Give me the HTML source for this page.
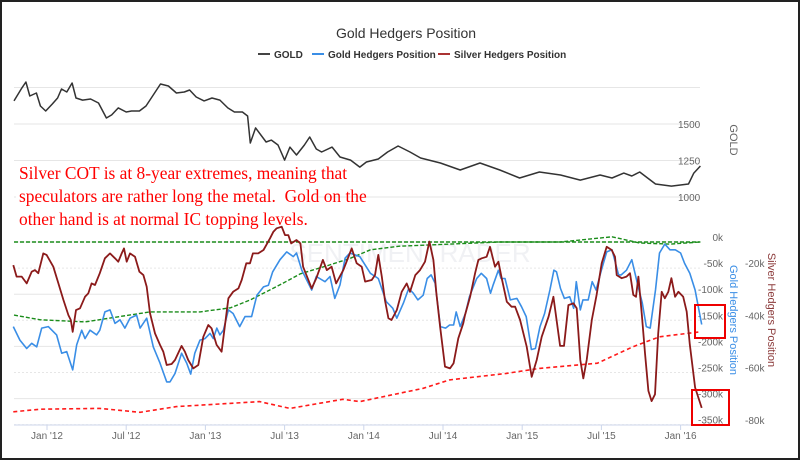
<!DOCTYPE html>
<html><head><meta charset="utf-8"><style>
body{margin:0;background:#fff}
#wrap{position:relative;width:800px;height:460px;overflow:hidden;background:#fff}
svg text{font-family:"Liberation Sans",sans-serif}
</style></head><body>
<div id="wrap">
<svg id="chart" width="800" height="460" xmlns="http://www.w3.org/2000/svg"></svg>
</div>
<script>
const goldT=[-2.5,-1.9,-1.6,-1.3,-0.8,-0.5,-0.1,0.4,0.8,1.1,1.5,1.9,2.2,2.7,3.3,3.9,4.5,4.9,5.4,6.0,6.4,7.0,7.5,8.0,8.6,9.2,9.8,10.4,10.8,11.3,11.9,12.5,13.1,13.7,14.2,14.8,15.2,15.4,15.8,16.6,17.0,17.5,18.0,18.4,18.9,19.5,19.9,20.4,20.8,21.6,22.2,23.0,23.7,24.2,25.1,25.8,26.6,27.5,28.3,29.8,31.3,32.8,34.3,35.8,37.3,38.9,40.4,41.9,42.8,43.7,44.3,44.9,46.1,47.3,48.6,49.0,49.5];
const goldV=[1658,1747,1788,1692,1712,1623,1589,1637,1678,1740,1719,1781,1678,1664,1671,1644,1541,1562,1610,1582,1589,1589,1623,1692,1774,1760,1712,1719,1733,1685,1658,1678,1664,1610,1582,1582,1555,1370,1473,1377,1390,1356,1253,1342,1288,1356,1411,1329,1308,1342,1274,1253,1205,1240,1260,1308,1349,1308,1267,1233,1185,1233,1185,1130,1171,1151,1116,1151,1130,1164,1144,1171,1089,1075,1089,1164,1212];
const blueT=[-2.55,-2.05,-1.54,-1.16,-0.78,-0.4,0.1,0.73,1.11,1.49,1.95,2.25,2.63,2.88,3.26,3.76,4.0,4.39,4.77,5.15,5.53,5.9,6.29,6.79,7.05,7.55,8.05,8.56,9.07,9.32,9.7,10.2,10.58,10.89,11.2,11.59,11.97,12.35,12.6,12.86,13.1,13.36,13.74,14.1,14.6,15.0,15.5,15.9,16.4,16.77,17.1,17.65,18.16,18.66,18.9,19.3,20.05,20.4,21.06,21.44,21.8,22.2,22.58,22.95,23.7,24.5,25.1,25.7,26.2,26.5,27.0,27.4,27.75,28.1,28.5,28.8,29.1,29.4,29.8,30.2,30.5,30.8,31.0,31.3,31.7,32.0,32.55,32.9,33.3,33.6,33.8,34.2,34.4,34.7,35.1,35.6,35.95,36.3,36.7,37.0,37.35,37.7,38.1,38.4,38.6,38.9,39.2,39.6,39.9,40.1,40.4,40.6,41.0,41.3,41.6,42.0,42.4,42.8,43.3,43.5,43.9,44.3,44.7,45.1,45.4,45.7,46.1,46.4,46.8,47.2,47.6,48.0,48.3,48.7,49.1,49.6];
const blueV=[-162,-188,-204,-194,-201,-165,-162,-178,-213,-210,-245,-197,-169,-185,-169,-178,-169,-134,-130,-156,-149,-165,-146,-140,-165,-146,-201,-232,-268,-268,-252,-213,-232,-253,-213,-188,-185,-175,-185,-165,-178,-169,-130,-137,-162,-143,-143,-102,-86,-83,-57,-34,-19,-28,-21,-54,-92,-66,-76,-66,-108,-82,-31,-21,-28,-60,-70,-114,-127,-146,-117,-89,-98,-111,-102,-70,-63,-79,-162,-165,-159,-159,-134,-162,-137,-105,-70,-60,-70,-98,-82,-54,-70,-70,-111,-108,-124,-143,-206,-204,-162,-137,-92,-54,-57,-89,-108,-105,-127,-76,-130,-111,-111,-76,-92,-54,-19,-15,-63,-63,-54,-34,-76,-117,-162,-165,-92,-21,-4,-15,-15,-21,-41,-60,-92,-158];
const silT=[-2.55,-2.3,-1.92,-1.54,-1.16,-0.91,-0.66,-0.28,-0.03,0.48,0.86,1.24,1.62,1.8,1.95,2.2,2.5,2.88,3.13,3.38,3.64,4.0,4.39,4.77,5.15,5.4,5.66,5.83,6.04,6.29,6.67,7.0,7.3,7.55,7.8,8.18,8.56,8.81,9.07,9.44,9.7,10.2,10.45,10.7,11.08,11.46,11.84,12.22,12.47,12.85,13.23,13.74,14.1,14.5,14.75,15.1,15.38,15.6,16.0,16.4,16.9,17.15,17.4,17.78,18.03,18.28,18.5,18.9,19.2,19.4,20.05,20.4,20.9,21.2,21.56,21.9,22.45,23.08,23.46,23.84,24.1,24.6,24.85,25.1,25.36,25.6,25.86,26.1,26.5,26.87,27.25,27.5,27.9,28.26,28.64,28.97,29.27,29.5,29.78,30.15,30.53,30.8,31.16,31.54,31.67,32.05,32.43,32.68,32.93,33.3,33.56,33.94,34.2,34.45,34.83,35.2,35.46,35.84,36.34,36.72,37.1,37.48,38.0,38.36,38.87,39.17,39.5,39.88,40.13,40.4,40.63,40.89,41.27,41.64,42.02,42.4,42.78,43.03,43.16,43.54,43.9,44.17,44.42,44.62,44.8,45.05,45.3,45.56,45.8,46.06,46.3,46.57,46.8,47.07,47.3,47.58,47.83,48.2,48.46,48.7,49.1,49.6];
const silV=[-18.9,-23.3,-23.3,-25.9,-21.4,-20.8,-22.0,-14.4,-15.0,-19.5,-25.9,-32.2,-38.0,-39.9,-44.4,-36.1,-35.4,-31.0,-29.7,-25.9,-26.5,-22.0,-16.3,-14.4,-16.3,-17.6,-14.4,-12.5,-17.6,-14.4,-15.7,-21.4,-22.7,-27.2,-37.3,-45.0,-49.4,-52.0,-57.1,-56.7,-55.2,-49.8,-52.0,-55.2,-58.4,-57.1,-46.3,-41.8,-43.1,-49.4,-52.0,-31.6,-29.1,-27.8,-24.6,-18.2,-18.2,-14.4,-14.4,-13.1,-8.6,-6.1,-4.8,-4.2,-7.4,-7.4,-10.6,-9.3,-10.6,-19.5,-27.8,-23.9,-16.9,-20.8,-19.5,-25.9,-20.8,-12.5,-18.2,-19.5,-25.2,-24.6,-22.7,-15.0,-23.3,-32.2,-39.2,-39.9,-36.1,-29.1,-25.9,-29.1,-22.7,-20.8,-17.6,-9.9,-16.9,-29.7,-42.4,-57.7,-58.4,-56.4,-46.9,-41.1,-38.0,-31.0,-22.0,-16.9,-16.3,-15.7,-11.9,-19.5,-17.6,-23.9,-32.9,-34.8,-34.8,-39.9,-50.1,-61.6,-55.2,-46.3,-38.6,-31.0,-49.8,-49.8,-34.2,-33.5,-35.4,-55.2,-62.2,-55.2,-39.9,-30.3,-18.2,-11.9,-13.1,-15.7,-22.7,-23.9,-23.3,-22.0,-30.3,-31.0,-23.3,-37.3,-52.6,-67.0,-70.9,-68.3,-45.0,-29.1,-31.6,-29.1,-23.9,-31.0,-29.1,-31.0,-36.7,-49.2,-65.7,-73.5];
const gAvgT=[-2.5,-0.5,2.9,7.8,11.6,13.9,15.4,17.65,19.2,21.4,23,24.5,26.7,30.5,34.3,38.9,42.8,44.9,47.2,49.5];
const gAvgV=[-140,-149,-153,-134,-134,-126,-111,-82,-61,-44,-31,-15,-8,-4,0,0,10,-2,-4,0];
const gTopT=[-2.5,49.5];
const gTopV=[0,0];
const sAvgT=[-2.55,-0.5,4.0,7.05,9.8,16.1,18.4,22.4,23.7,28.5,30.5,34.8,37.3,41.7,44.4,46.4,49.5];
const sAvgV=[-75.0,-74.0,-73.7,-75.2,-73.0,-71.1,-73.7,-70.2,-71.1,-66.0,-62.8,-60.3,-58.4,-56.4,-50.1,-46.3,-44.4];
const xTickT=[0,6,12,18,24,30,36,42,48];
const xTickL=["Jan '12","Jul '12","Jan '13","Jul '13","Jan '14","Jul '14","Jan '15","Jul '15","Jan '16"];
const goldTicks=[1750,1500,1250,1000];
const goldTickL=["","1500","1250","1000"];
const hedgeTicks=[0,-50,-100,-150,-200,-250,-300,-350];
const silTicks=[-20,-40,-60,-80];

const X=t=>47+t*13.2;
const YG=v=>124-(v-1500)*36.5/250;
const YH=v=>242-v*26.1/50;
const YS=v=>215.7-v*52.3/20;
const NS="http://www.w3.org/2000/svg";
const svg=document.getElementById('chart');
function mk(tag,attrs,parent){const e=document.createElementNS(NS,tag);for(const k in attrs)e.setAttribute(k,attrs[k]);(parent||svg).appendChild(e);return e;}
function txt(s,attrs){const e=mk('text',attrs);e.textContent=s;return e;}
function path(ts,vs,yf){return ts.map((t,i)=>(i?'L':'M')+X(t).toFixed(1)+' '+yf(vs[i]).toFixed(1)).join(' ');}

let e=mk('rect',{x:1,y:1,width:798,height:458,fill:'none',stroke:'#222','stroke-width':2});



goldTicks.forEach((v,i)=>{const g=mk('line',{x1:14,x2:700,y1:YG(v),y2:YG(v),stroke:'#e6e6e6'});


if(goldTickL[i]){const l=txt(goldTickL[i],{x:678,y:YG(v)+4,'font-size':10,fill:'#666'});

}});
hedgeTicks.forEach(v=>{const g=mk('line',{x1:14,x2:700,y1:YH(v),y2:YH(v),stroke:'#e6e6e6','stroke-dasharray':v%100===0?'':'2,2'});


const l=txt(v+'k',{x:723,y:YH(v)-1,'font-size':10,fill:'#666','text-anchor':'end'});

});
silTicks.forEach(v=>{const l=txt(v+'k',{x:745,y:YS(v)-1,'font-size':10,fill:'#666'});

});

e=mk('line',{x1:14,x2:700,y1:425,y2:425,stroke:'#ccd6eb'});


xTickT.forEach((t,i)=>{const k=mk('line',{x1:X(t),x2:X(t),y1:425,y2:430,stroke:'#ccd6eb'});


const l=txt(xTickL[i],{x:X(t),y:439,'font-size':10,fill:'#666','text-anchor':'middle'});

});

e=txt('SENTIMENTRADER',{x:410,y:262,'font-size':26,fill:'#f0f1f4','text-anchor':'middle'});



e=mk('path',{d:path(sAvgT,sAvgV,YS),fill:'none',stroke:'#ff1a1a','stroke-width':1.6,'stroke-dasharray':'4,3'});


e=mk('path',{d:path(gTopT,gTopV,YH),fill:'none',stroke:'#1a8c1a','stroke-width':1.4,'stroke-dasharray':'4,2'});


e=mk('path',{d:path(gAvgT,gAvgV,YH),fill:'none',stroke:'#1a8c1a','stroke-width':1.4,'stroke-dasharray':'4,2'});


e=mk('path',{d:path(blueT,blueV,YH),fill:'none',stroke:'#3a8ee6','stroke-width':1.6,'stroke-linejoin':'round'});


e=mk('path',{d:path(silT,silV,YS),fill:'none',stroke:'#8b1a1a','stroke-width':1.8,'stroke-linejoin':'round'});


e=mk('path',{d:path(goldT,goldV,YG),fill:'none',stroke:'#333','stroke-width':1.5,'stroke-linejoin':'round'});



e=txt('Gold Hedgers Position',{x:406,y:38,'font-size':14,fill:'#333','text-anchor':'middle'});


[[258,'#444','GOLD'],[312,'#3a8ee6','Gold Hedgers Position'],[438,'#a33','Silver Hedgers Position']].forEach(a=>{
const g=mk('g',{});


mk('line',{x1:a[0],x2:a[0]+12,y1:54,y2:54,stroke:a[1],'stroke-width':2},g);
const t=mk('text',{x:a[0]+16,y:58,'font-size':10,'font-weight':'bold',fill:'#333'},g);t.textContent=a[2];});

e=txt('GOLD',{x:0,y:0,'font-size':11,fill:'#666','text-anchor':'middle',transform:'translate(730,140) rotate(90)'});


e=txt('Gold Hedgers Position',{x:0,y:0,'font-size':11,fill:'#3a8ee6','text-anchor':'middle',transform:'translate(730,320) rotate(90)'});


e=txt('Silver Hedgers Position',{x:0,y:0,'font-size':11,fill:'#8b3a3a','text-anchor':'middle',transform:'translate(768,310) rotate(90)'});



e=mk('rect',{x:16,y:163,width:300,height:62,fill:'#fff'});


["Silver COT is at 8-year extremes, meaning that","speculators are rather long the metal.  Gold on the","other hand is at normal IC topping levels."].forEach((s,i)=>{
const t=txt(s,{x:19,y:179+i*23,'font-size':17.4,fill:'#f00'});
t.setAttribute('style','font-family:"Liberation Serif",serif;white-space:pre');

});

e=mk('rect',{x:695,y:305,width:30,height:33,fill:'none',stroke:'#e00','stroke-width':2});


e=mk('rect',{x:692,y:390,width:37,height:35,fill:'none',stroke:'#e00','stroke-width':2});


</script>
</body></html>
